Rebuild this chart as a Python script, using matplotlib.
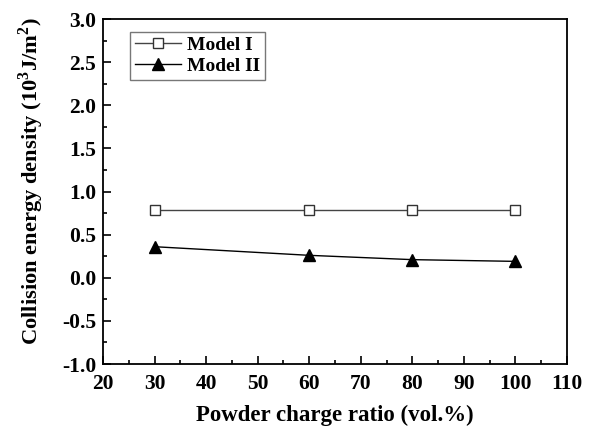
import matplotlib
matplotlib.use("Agg")
import matplotlib.pyplot as plt
from matplotlib.ticker import MultipleLocator

x_vals = [30, 60, 80, 100]
model1 = [0.79, 0.79, 0.79, 0.79]
model2 = [0.36, 0.26, 0.21, 0.19]

plt.rcParams['font.family'] = ['Liberation Serif', 'DejaVu Serif']
plt.rcParams['font.weight'] = 'bold'
plt.rcParams['mathtext.fontset'] = 'custom'
plt.rcParams['mathtext.rm'] = 'Liberation Serif:bold'
plt.rcParams['mathtext.bf'] = 'Liberation Serif:bold'

fig = plt.figure(figsize=(5.94, 4.29), dpi=100)
ax = fig.add_axes([0.1734, 0.1515, 0.9545 - 0.1734, 0.9557 - 0.1515])

ax.plot(x_vals, model1, '-', color='#444444', lw=1.0, marker='s', ms=7,
        mfc='white', mec='#333333', mew=1.0, label='Model I')
ax.plot(x_vals, model2, '-', color='black', lw=1.0, marker='^', ms=8.5,
        mfc='black', mec='black', label='Model II')

ax.set_xlim(20, 110)
ax.set_ylim(-1.0, 3.0)
ax.xaxis.set_major_locator(MultipleLocator(10))
ax.xaxis.set_minor_locator(MultipleLocator(5))
ax.yaxis.set_major_locator(MultipleLocator(0.5))
ax.yaxis.set_minor_locator(MultipleLocator(0.25))
ax.yaxis.set_major_formatter(matplotlib.ticker.FormatStrFormatter('%.1f'))
ax.tick_params(which='both', direction='in', top=False, right=False, labelsize=15.5, width=1.2)
ax.tick_params(which='major', length=6)
ax.tick_params(which='minor', length=3)
ax.tick_params(axis='x', which='major', pad=7)
ax.tick_params(axis='y', which='major', pad=5)
for lab in ax.get_xticklabels() + ax.get_yticklabels():
    lab.set_fontweight('bold')
for s in ax.spines.values():
    s.set_linewidth(1.3)

ax.set_xlabel('Powder charge ratio (vol.%)', fontsize=16.5, fontweight='bold', labelpad=8)
ax.set_ylabel(r'Collision energy density (10$^{3}$J/m$^{2}$)', fontsize=16.2, fontweight='bold', labelpad=10)
ax.yaxis.set_label_coords(-0.122, 0.53)

leg = ax.legend(loc='upper left', bbox_to_anchor=(0.058, 0.963), borderaxespad=0,
                prop={'weight': 'bold', 'size': 14}, fancybox=False, edgecolor='#555555',
                handlelength=2.4, borderpad=0.25, labelspacing=0.15, handletextpad=0.3)
leg.get_frame().set_linewidth(1.0)

fig.savefig('out.png', dpi=100)
